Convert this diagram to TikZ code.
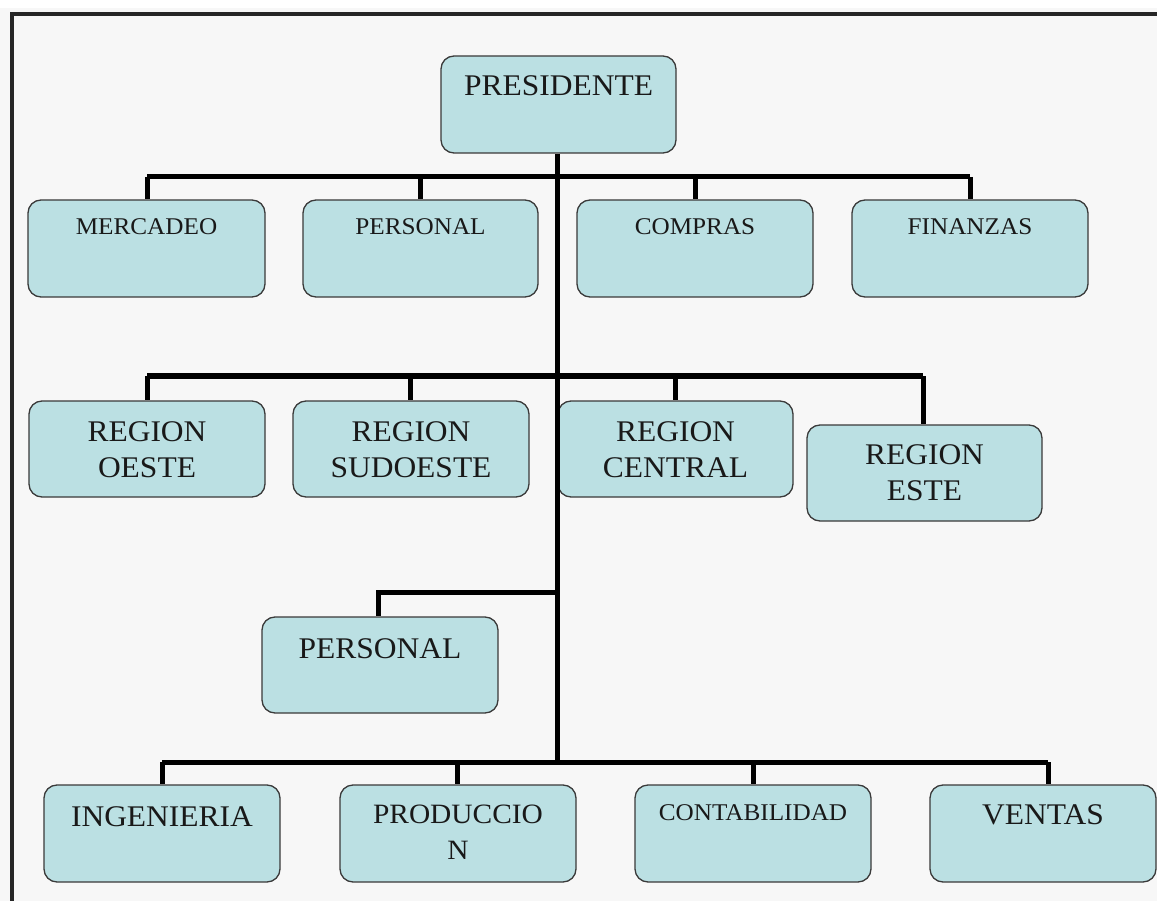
\documentclass[tikz,border=0pt]{standalone}
\usepackage{fontspec}
\setmainfont[FakeStretch=1.05]{Liberation Serif}
\definecolor{boxfill}{HTML}{BBE0E3}
\definecolor{boxline}{HTML}{3A3A3A}
\definecolor{bg}{HTML}{F7F7F7}
\tikzset{
  orgbox/.style={draw=boxline, line width=1.3pt, fill=boxfill, rounded corners=13pt, inner sep=0pt},
  lbl/.style={anchor=north, inner sep=0pt, align=center, text=black!90},
  conn/.style={line width=5pt, black},
  big/.style={font=\fontsize{30}{36}\selectfont},
  mid/.style={font=\fontsize{28}{36}\selectfont},
  small/.style={font=\fontsize{24}{30}\selectfont}
}
\newcommand{\obox}[5]{% name, x1, y1, x2, y2
  \node[orgbox, minimum width={#4-#2}, minimum height={#5-#3}] (#1) at ({(#2+#4)/2},{(#3+#5)/2}) {};}
\begin{document}
\begin{tikzpicture}[x=1pt,y=-1pt]
\useasboundingbox (0,0) rectangle (1157,901);
\fill[white] (0,0) rectangle (1157,901);
\fill[bg] (0,8) rectangle (1157,901);
\draw[line width=3.5pt, black!85] (12,905) -- (12,14) -- (1160,14);

% boxes
\obox{pres}{441}{56}{676}{153}
\obox{merc}{28}{200}{265}{297}
\obox{persa}{303}{200}{538}{297}
\obox{comp}{577}{200}{813}{297}
\obox{fin}{852}{200}{1088}{297}
\obox{roe}{29}{401}{265}{497}
\obox{rsu}{293}{401}{529}{497}
\obox{rce}{558}{401}{793}{497}
\obox{res}{807}{425}{1042}{521}
\obox{persb}{262}{617}{498}{713}
\obox{ing}{44}{785}{280}{882}
\obox{prod}{340}{785}{576}{882}
\obox{cont}{635}{785}{871}{882}
\obox{vent}{930}{785}{1156}{882}

% labels
\node[lbl,big] (tpres) at ([yshift=-20pt]pres.north) {PRESIDENTE};
\node[lbl,small] (tmerc) at ([yshift=-19pt]merc.north) {MERCADEO};
\node[lbl,small] (tpersa) at ([yshift=-19pt]persa.north) {PERSONAL};
\node[lbl,small] (tcomp) at ([yshift=-19pt]comp.north) {COMPRAS};
\node[lbl,small] (tfin) at ([yshift=-19pt]fin.north) {FINANZAS};
\node[lbl,big] (troe) at ([yshift=-21pt]roe.north) {REGION\\OESTE};
\node[lbl,big] (trsu) at ([yshift=-21pt]rsu.north) {REGION\\SUDOESTE};
\node[lbl,big] (trce) at ([yshift=-21pt]rce.north) {REGION\\CENTRAL};
\node[lbl,big] (tres) at ([yshift=-20pt]res.north) {REGION\\ESTE};
\node[lbl,big] (tpersb) at ([yshift=-22pt]persb.north) {PERSONAL};
\node[lbl,big] (ting) at ([yshift=-22pt]ing.north) {INGENIERIA};
\node[lbl,mid] (tprod) at ([yshift=-20pt]prod.north) {PRODUCCIO\\N};
\node[lbl,small] (tcont) at ([yshift=-20pt]cont.north) {CONTABILIDAD};
\node[lbl,big] (tvent) at ([yshift=-20pt]vent.north) {VENTAS};

% connectors
\coordinate (t1) at (557,177);
\coordinate (t2) at (557,376);
\coordinate (t3) at (557,592);
\coordinate (t4) at (557,762);
\draw[conn] (pres.south -| t1) -- (t4);
\draw[conn] (147,177) -- (970,177);
\draw[conn] (147,177) -- (merc.north -| 147,0);
\draw[conn] (420,177) -- (persa.north -| 420,0);
\draw[conn] (695,177) -- (comp.north -| 695,0);
\draw[conn] (970,177) -- (fin.north -| 970,0);
\draw[conn] (147,376) -- (923,376);
\draw[conn] (147,376) -- (roe.north -| 147,0);
\draw[conn] (410,376) -- (rsu.north -| 410,0);
\draw[conn] (675,376) -- (rce.north -| 675,0);
\draw[conn] (923,376) -- (res.north -| 923,0);
\draw[conn] (t3) -- (378,592) -- (persb.north -| 378,0);
\draw[conn] (162,762) -- (1048,762);
\draw[conn] (162,762) -- (ing.north -| 162,0);
\draw[conn] (457,762) -- (prod.north -| 457,0);
\draw[conn] (753,762) -- (cont.north -| 753,0);
\draw[conn] (1048,762) -- (vent.north -| 1048,0);
\end{tikzpicture}
\end{document}
